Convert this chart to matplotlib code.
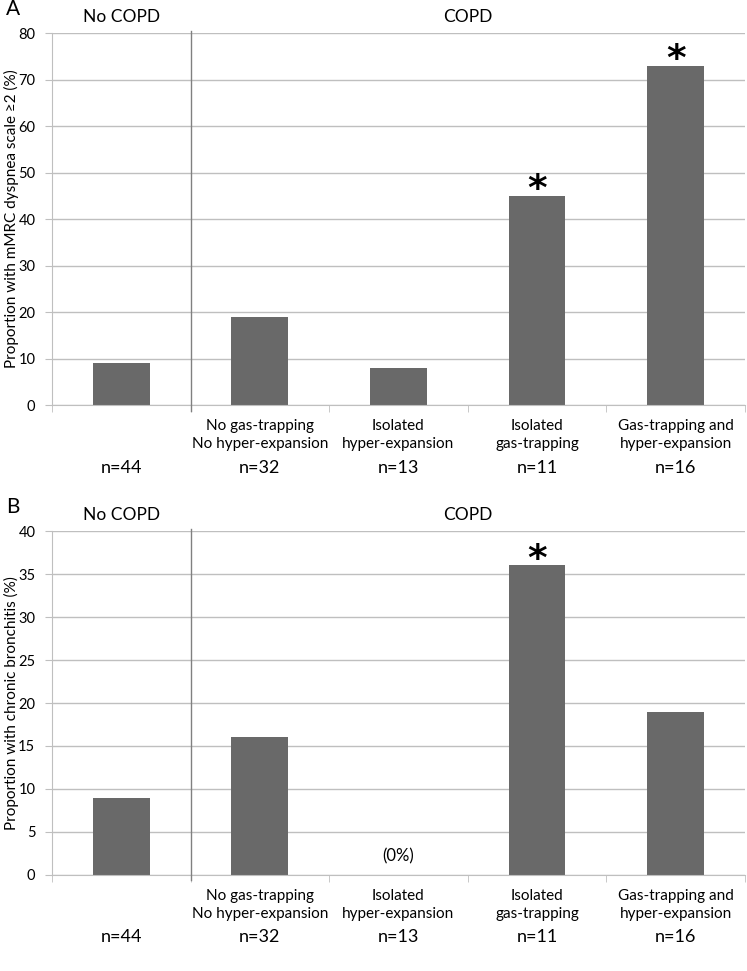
import matplotlib
matplotlib.use("Agg")
import matplotlib.pyplot as plt

plt.rcParams['font.family'] = ['Lato', 'DejaVu Sans']

categories = ["", "No gas-trapping\nNo hyper-expansion", "Isolated\nhyper-expansion",
              "Isolated\ngas-trapping", "Gas-trapping and\nhyper-expansion"]
n_labels = ["n=44", "n=32", "n=13", "n=11", "n=16"]
dyspnea = [9, 19, 8, 45, 73]
bronchitis = [9, 16, 0, 36, 19]
sig_a = [False, False, False, True, True]
sig_b = [False, False, False, True, False]

BAR = "#696969"
GRID = "#bfbfbf"

fig = plt.figure(figsize=(7.47, 9.71), dpi=100)
axA = fig.add_axes([0.0696, 0.5829, 0.9277, 0.3831])
axB = fig.add_axes([0.0696, 0.0989, 0.9277, 0.3542])

def draw(ax, values, sig, ymax, step, ylabel, letter, zero_note):
    x = list(range(len(values)))
    ax.set_axisbelow(True)
    ax.bar(x, values, width=0.41, color=BAR, zorder=2)
    ax.set_xlim(-0.5, len(values) - 0.5)
    ax.set_ylim(0, ymax)
    ax.set_yticks(range(0, ymax + 1, step))
    ax.yaxis.grid(True, color=GRID, linewidth=1.0)
    ax.tick_params(axis='y', length=5, color=GRID, labelsize=10.5, pad=7)
    ax.set_xticks([])
    ax.set_xticks([i - 0.5 for i in range(len(values) + 1)], minor=True)
    ax.tick_params(axis='x', which='minor', length=5, color=GRID, direction='out')
    for s in ['top', 'right']:
        ax.spines[s].set_visible(False)
    ax.spines['left'].set_color(GRID)
    ax.spines['bottom'].set_color(GRID)
    ax.set_ylabel(ylabel, fontsize=11)
    ax.yaxis.set_label_coords(-0.047, 0.5)
    # separator
    ax.plot([0.5, 0.5], [-0.015, 1.005], transform=ax.get_xaxis_transform(),
            color="#808080", linewidth=1.0, clip_on=False, zorder=3)
    # group labels
    ax.text(0, 1.022, "No COPD", transform=ax.get_xaxis_transform(),
            ha='center', va='bottom', fontsize=12.5)
    ax.text(2.5, 1.022, "COPD", transform=ax.get_xaxis_transform(),
            ha='center', va='bottom', fontsize=12.5)
    # category labels
    for i, (c, n) in enumerate(zip(categories, n_labels)):
        ax.annotate(c, xy=(i, 0), xycoords=('data', 'axes fraction'),
                    xytext=(0, -21.5), textcoords='offset points',
                    ha='center', va='center', fontsize=11, linespacing=1.35)
        ax.annotate(n, xy=(i, 0), xycoords=('data', 'axes fraction'),
                    xytext=(0, -45), textcoords='offset points',
                    ha='center', va='center', fontsize=13)
    for i, (v, s) in enumerate(zip(values, sig)):
        if s:
            ax.annotate("*", xy=(i, v), xytext=(0, -3), textcoords='offset points',
                        ha='center', va='baseline', fontsize=27, fontweight='bold',
                        family='DejaVu Sans')
        if v == 0 and zero_note:
            ax.text(i, ymax * 0.053, "(0%)", ha='center', va='center', fontsize=12)
    fig.text(0.008, ax.get_position().y1 + 0.014, letter, fontsize=15,
             ha='left', va='bottom')

draw(axA, dyspnea, sig_a, 80, 10, "Proportion with mMRC dyspnea scale \u22652 (%)", "A", False)
draw(axB, bronchitis, sig_b, 40, 5, "Proportion with chronic bronchitis (%)", "B", True)

fig.savefig("out.png", dpi=100)
